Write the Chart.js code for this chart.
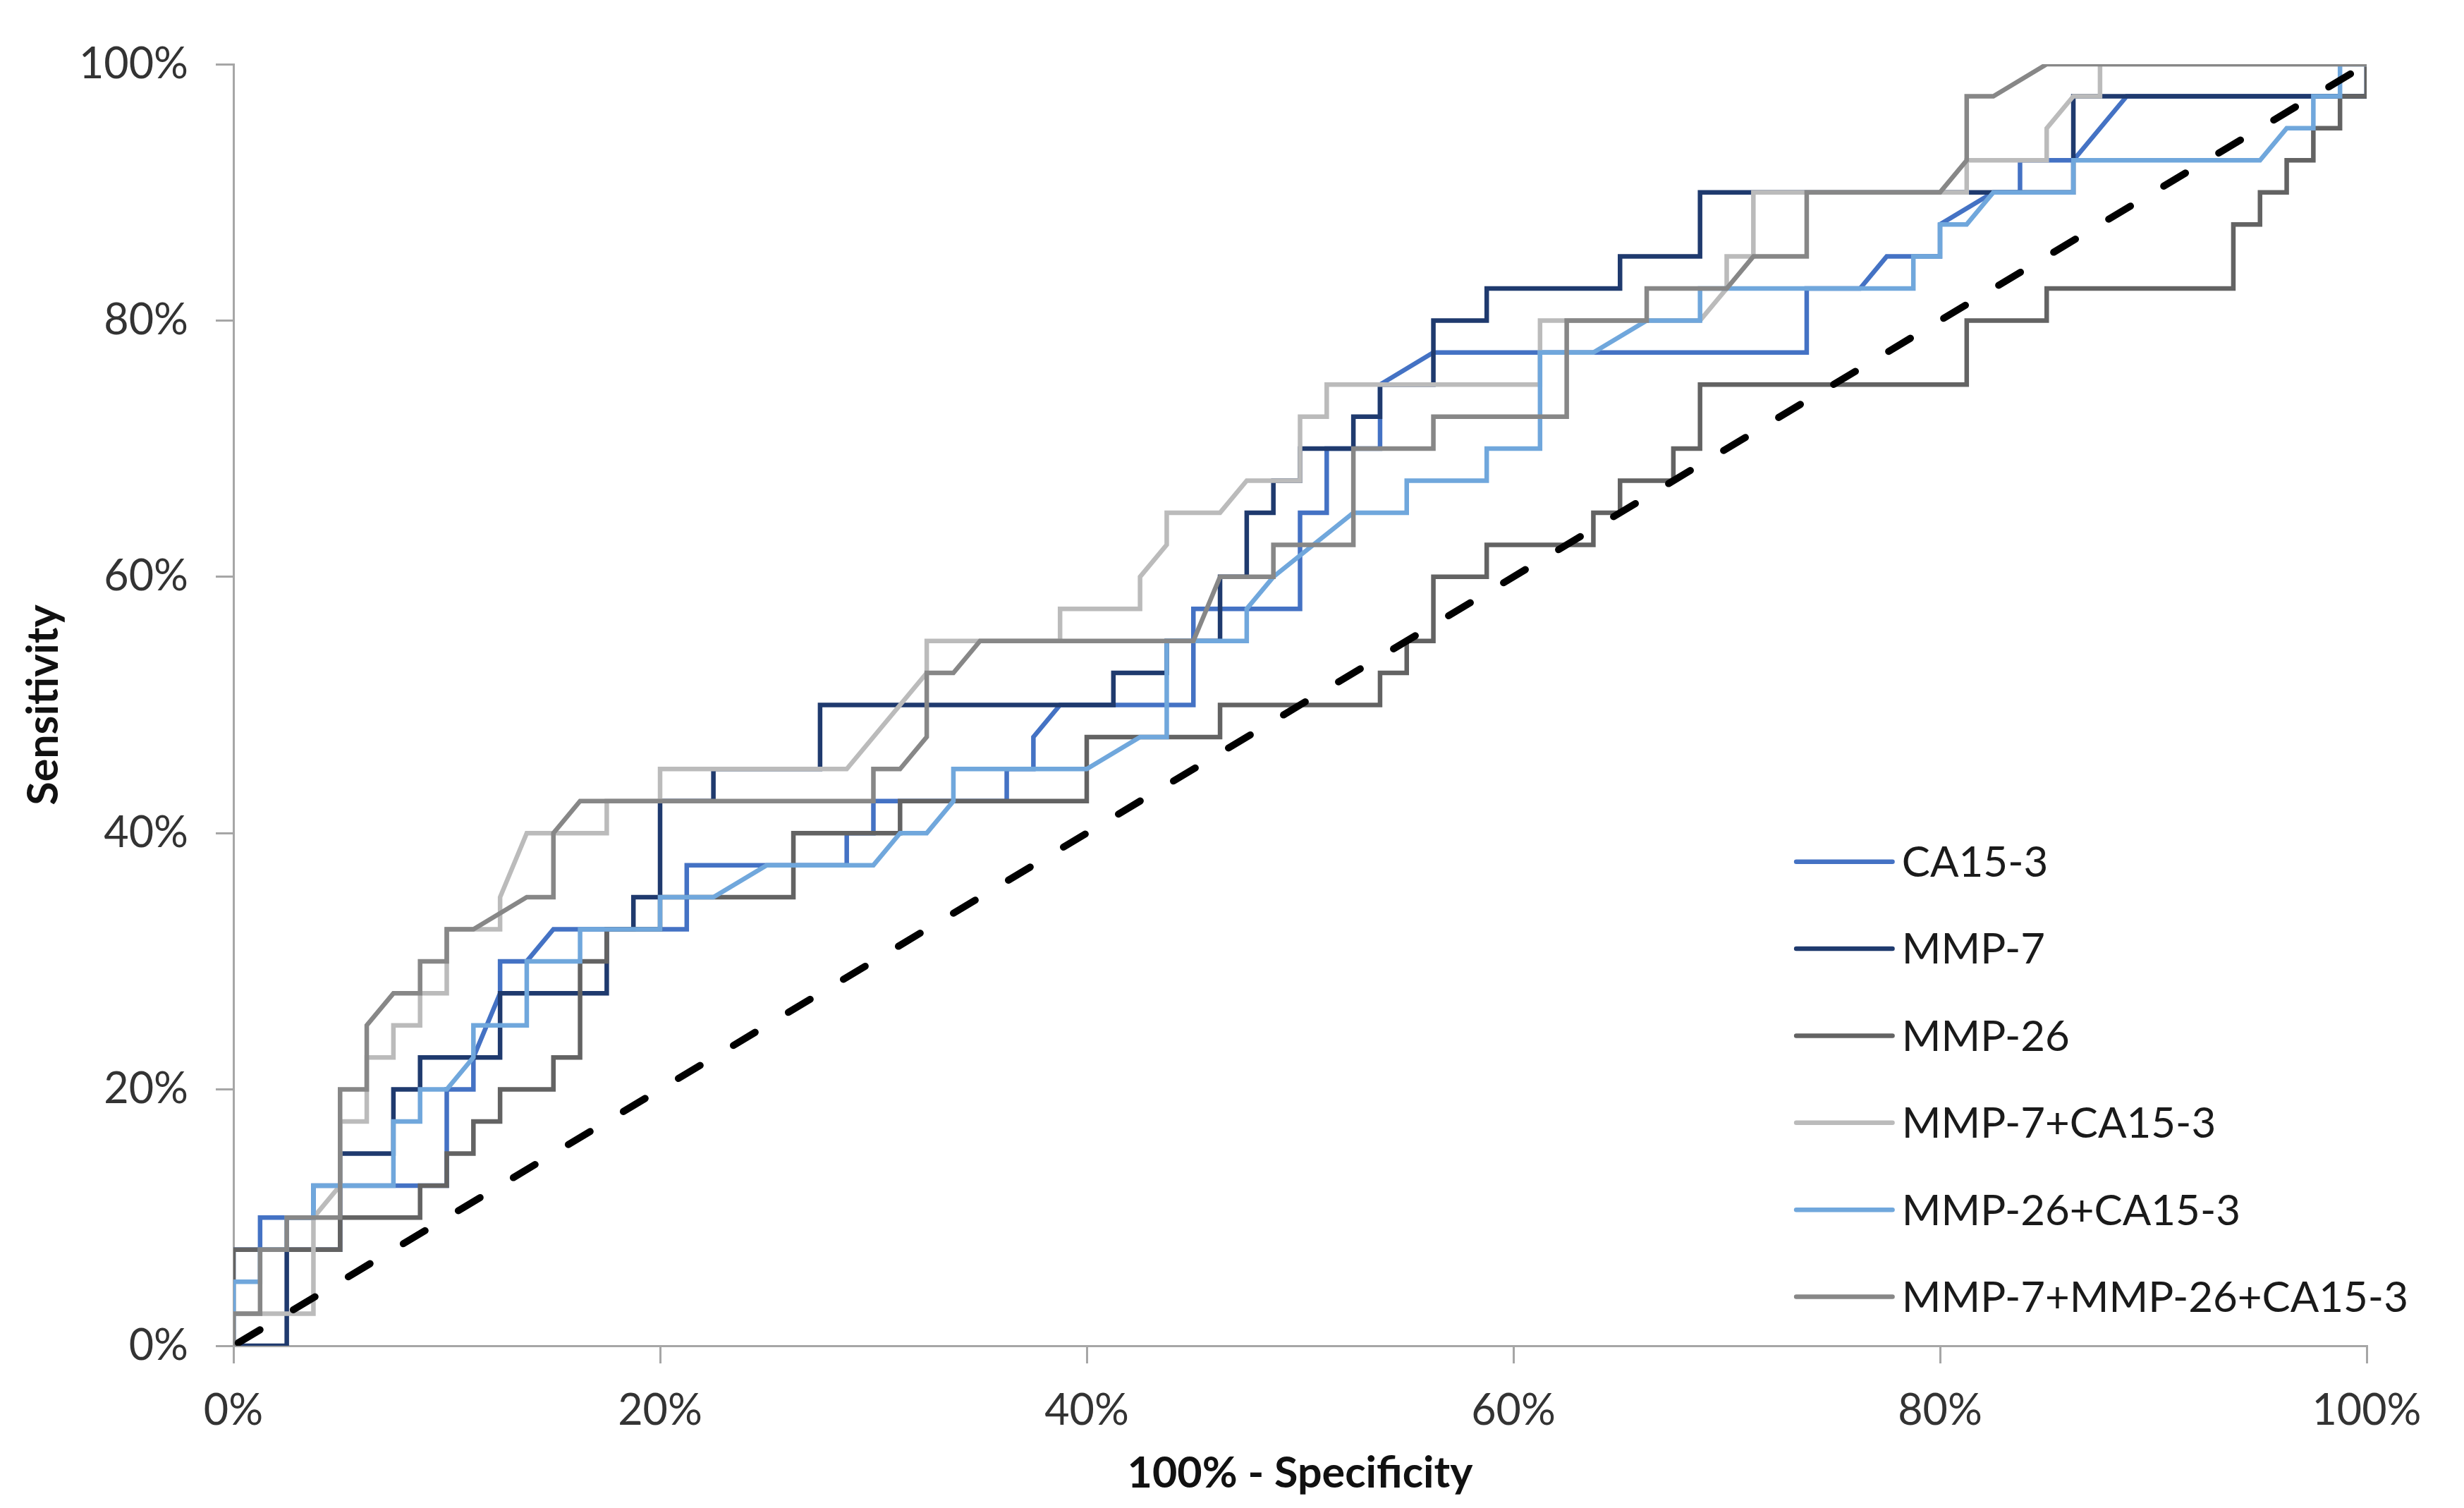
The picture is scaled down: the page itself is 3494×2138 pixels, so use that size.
<!DOCTYPE html>
<html><head><meta charset="utf-8">
<script src="https://cdn.jsdelivr.net/npm/chart.js@4.4.1/dist/chart.umd.min.js"></script>
<style>html,body{margin:0;padding:0;background:#fff;}canvas{display:block;}</style>
</head><body>
<canvas id="c" width="3494" height="2138"></canvas>
<script>
// ---- data (percent) ----
const seriesNames = ['CA15-3','MMP-7','MMP-26','MMP-7+CA15-3','MMP-26+CA15-3','MMP-7+MMP-26+CA15-3'];
const tickValues = [0,20,40,60,80,100];
const tickLabels = ['0%','20%','40%','60%','80%','100%'];

const ca153X = [0,0,1.25,1.25,3.75,3.75,10,10,11.25,11.25,12.5,12.5,13.75,15,21.25,21.25,28.75,28.75,30,30,36.25,36.25,37.5,37.5,38.75,45,45,50,50,51.25,51.25,53.75,53.75,56.25,73.75,73.75,76.25,77.5,80,80,82.5,83.75,83.75,86.25,88.75,100,100];
const ca153Y = [0,7.5,7.5,10,10,12.5,12.5,20,20,22.5,27.5,30,30,32.5,32.5,37.5,37.5,40,40,42.5,42.5,45,45,47.5,50,50,57.5,57.5,65,65,70,70,75,77.5,77.5,82.5,82.5,85,85,87.5,90,90,92.5,92.5,97.5,97.5,100];

const mmp7X = [0,2.5,2.5,5,5,7.5,7.5,8.75,8.75,12.5,12.5,17.5,17.5,18.75,18.75,20,20,22.5,22.5,27.5,27.5,41.25,41.25,43.75,43.75,46.25,46.25,47.5,47.5,48.75,48.75,50,50,52.5,52.5,53.75,53.75,56.25,56.25,58.75,58.75,65,65,68.75,68.75,86.25,86.25,100,100];
const mmp7Y = [0,0,7.5,7.5,15,15,20,20,22.5,22.5,27.5,27.5,32.5,32.5,35,35,42.5,42.5,45,45,50,50,52.5,52.5,55,55,60,60,65,65,67.5,67.5,70,70,72.5,72.5,75,75,80,80,82.5,82.5,85,85,90,90,97.5,97.5,100];

const mmp26X = [0,0,5,5,8.75,8.75,10,10,11.25,11.25,12.5,12.5,15,15,16.25,16.25,17.5,17.5,20,20,26.25,26.25,31.25,31.25,40,40,46.25,46.25,53.75,53.75,55,55,56.25,56.25,58.75,58.75,63.75,63.75,65,65,67.5,67.5,68.75,68.75,81.25,81.25,85,85,93.75,93.75,95,95,96.25,96.25,97.5,97.5,98.75,98.75,100,100];
const mmp26Y = [0,7.5,7.5,10,10,12.5,12.5,15,15,17.5,17.5,20,20,22.5,22.5,30,30,32.5,32.5,35,35,40,40,42.5,42.5,47.5,47.5,50,50,52.5,52.5,55,55,60,60,62.5,62.5,65,65,67.5,67.5,70,70,75,75,80,80,82.5,82.5,87.5,87.5,90,90,92.5,92.5,95,95,97.5,97.5,100];

const mmp7caX = [0,0,3.75,3.75,5,5,6.25,6.25,7.5,7.5,8.75,8.75,10,10,12.5,12.5,13.75,17.5,17.5,20,20,28.75,32.5,32.5,38.75,38.75,42.5,42.5,43.75,43.75,46.25,47.5,50,50,51.25,51.25,61.25,61.25,68.75,70,70,71.25,71.25,81.25,81.25,85,85,86.25,87.5,87.5,100];
const mmp7caY = [0,2.5,2.5,10,12.5,17.5,17.5,22.5,22.5,25,25,27.5,27.5,32.5,32.5,35,40,40,42.5,42.5,45,45,52.5,55,55,57.5,57.5,60,62.5,65,65,67.5,67.5,72.5,72.5,75,75,80,80,82.5,85,85,90,90,92.5,92.5,95,97.5,97.5,100,100];

const mmp26caX = [0,0,1.25,1.25,2.5,2.5,3.75,3.75,7.5,7.5,8.75,8.75,10,11.25,11.25,13.75,13.75,16.25,16.25,20,20,22.5,25,30,31.25,32.5,33.75,33.75,40,42.5,43.75,43.75,47.5,47.5,48.75,52.5,55,55,58.75,58.75,61.25,61.25,63.75,66.25,68.75,68.75,78.75,78.75,80,80,81.25,82.5,86.25,86.25,95,96.25,97.5,97.5,98.75,98.75,100];
const mmp26caY = [0,5,5,7.5,7.5,10,10,12.5,12.5,17.5,17.5,20,20,22.5,25,25,30,30,32.5,32.5,35,35,37.5,37.5,40,40,42.5,45,45,47.5,47.5,55,55,57.5,60,65,65,67.5,67.5,70,70,77.5,77.5,80,80,82.5,82.5,85,85,87.5,87.5,90,90,92.5,92.5,95,95,97.5,97.5,100,100];

const comboX = [0,0,1.25,1.25,2.5,2.5,5,5,6.25,6.25,7.5,8.75,8.75,10,10,11.25,13.75,15,15,16.25,30,30,31.25,32.5,32.5,33.75,35,45,46.25,48.75,48.75,52.5,52.5,56.25,56.25,62.5,62.5,66.25,66.25,70,71.25,73.75,73.75,80,81.25,81.25,82.5,85,100];
const comboY = [0,2.5,2.5,7.5,7.5,10,10,20,20,25,27.5,27.5,30,30,32.5,32.5,35,35,40,42.5,42.5,45,45,47.5,52.5,52.5,55,55,60,60,62.5,62.5,70,70,72.5,72.5,80,80,82.5,82.5,85,85,90,90,92.5,97.5,97.5,100,100];

const refX = [0,100];
const refY = [0,100];

// ---- styles ----
const colors = ['#4472C4','#1F3A6E','#636363','#BBBBBB','#70A7DC','#878787'];
const FONT = 'Lato';

function pts(xs, ys){ return xs.map((x,i)=>({x:x, y:ys[i]})); }

const seriesX = [ca153X, mmp7X, mmp26X, mmp7caX, mmp26caX, comboX];
const seriesY = [ca153Y, mmp7Y, mmp26Y, mmp7caY, mmp26caY, comboY];

const datasets = seriesNames.map((name,i)=>({
  label: name,
  data: pts(seriesX[i], seriesY[i]),
  showLine: true,
  borderColor: colors[i],
  backgroundColor: colors[i],
  borderWidth: 6.5,
  borderJoinStyle: 'miter',
  borderCapStyle: 'butt',
  pointRadius: 0,
  tension: 0,
  fill: false,
  order: 6 - i,
  inLegend: true
}));
datasets.push({
  label: 'reference',
  data: pts(refX, refY),
  showLine: true,
  borderColor: '#000000',
  borderWidth: 10,
  borderDash: [36, 55],
  borderDashOffset: -8,
  borderCapStyle: 'round',
  pointRadius: 0,
  fill: false,
  order: 0,
  inLegend: false
});

const legendPlugin = {
  id: 'insideLegend',
  afterDraw(chart){
    const ctx = chart.ctx;
    const ca = chart.chartArea;
    const w = ca.right - ca.left, h = ca.bottom - ca.top;
    const x0 = ca.left + w*0.7326, x1 = ca.left + w*0.7777, tx = ca.left + w*0.7821;
    const y0 = ca.top + h*0.6223, dy = h*0.0679;
    const items = chart.data.datasets.filter(d=>d.inLegend);
    ctx.save();
    items.forEach((d,i)=>{
      const y = y0 + i*dy;
      ctx.strokeStyle = d.borderColor; ctx.lineWidth = 6.5; ctx.lineCap = 'round';
      ctx.beginPath(); ctx.moveTo(x0,y); ctx.lineTo(x1,y); ctx.stroke();
      ctx.fillStyle = '#1a1a1a';
      ctx.font = '60px ' + FONT;
      ctx.textAlign = 'left'; ctx.textBaseline = 'middle';
      ctx.fillText(d.label, tx, y + 2);
    });
    ctx.restore();
  }
};

function axisCommon(){
  return {
    type: 'linear', min: 0, max: 100,
    ticks: {
      stepSize: 20, autoSkip: false, maxRotation: 0,
      font: {family: FONT, size: 61}, color: '#333333',
      callback: (v)=>{ const k = tickValues.indexOf(v); return k >= 0 ? tickLabels[k] : ''; }
    },
    grid: {drawOnChartArea: false, drawTicks: true, tickLength: 25, color: '#A6A6A6', lineWidth: 3},
    border: {display: true, color: '#A6A6A6', width: 3}
  };
}

function draw(){
  const x = axisCommon();
  x.ticks.padding = 31;
  x.afterFit = (s)=>{ s.height = 230; };
  x.title = {display: true, text: '100% - Specificity', color: '#111111',
             font: {family: FONT, size: 61, weight: 'bold'}, padding: {top: 0, bottom: 12}};
  const y = axisCommon();
  y.ticks.padding = 39;
  y.afterFit = (s)=>{ s.width = 331; };
  y.title = {display: true, text: 'Sensitivity', color: '#111111',
             font: {family: FONT, size: 61, weight: 'bold'}, padding: {top: 26, bottom: 0}};

  new Chart(document.getElementById('c'), {
    type: 'scatter',
    data: {datasets: datasets},
    options: {
      responsive: false, devicePixelRatio: 1, animation: false,
      layout: {padding: {left: 0, top: 91, right: 138, bottom: 0}},
      plugins: {legend: {display: false}, tooltip: {enabled: false}},
      scales: {x: x, y: y}
    },
    plugins: [legendPlugin]
  });
}

Promise.all([
  document.fonts.load('61px ' + FONT),
  document.fonts.load('bold 61px ' + FONT)
]).then(draw, draw);
</script>
</body></html>
